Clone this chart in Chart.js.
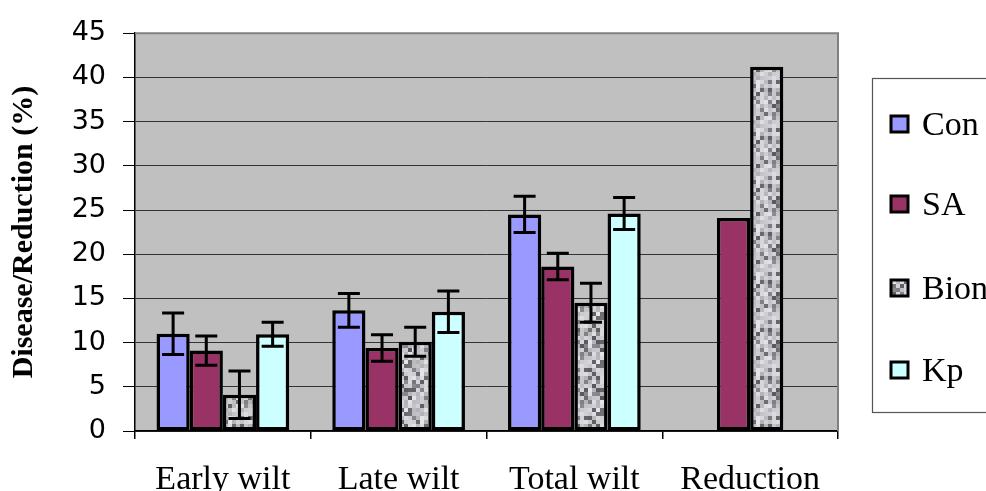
<!DOCTYPE html>
<html><head><meta charset="utf-8">
<script src="https://cdn.jsdelivr.net/npm/chart.js@4.4.1/dist/chart.umd.min.js"></script>
<style>html,body{margin:0;padding:0;background:#fff;overflow:hidden}#wrap{width:986px;height:491px;position:relative}</style>
</head><body><div id="wrap"><canvas id="c" width="986" height="491"></canvas></div>
<script>
const categories = ["Early wilt", "Late wilt", "Total wilt", "Reduction"];
const seriesNames = ["Con", "SA", "Bion", "Kp"];
const conValues = [11.0, 13.65, 24.5, null];
const saValues = [9.1, 9.4, 18.6, 24.1];
const bionValues = [4.1, 10.1, 14.5, 41.2];
const kpValues = [10.95, 13.5, 24.6, null];
const conErr = [2.35, 1.9, 2.05, null];
const saErr = [1.65, 1.5, 1.5, null];
const bionErr = [2.7, 1.65, 2.2, null];
const kpErr = [1.35, 2.35, 1.8, null];
const yTicks = [0, 5, 10, 15, 20, 25, 30, 35, 40, 45];

// deterministic speckle texture for Bion
function makePattern() {
  const p = document.createElement('canvas');
  p.width = 48; p.height = 48;
  const g = p.getContext('2d');
  let s = 98765;
  function rnd() { s = (s * 1103515245 + 12345) & 0x7fffffff; return s / 0x7fffffff; }
  for (let y = 0; y < 48; y += 4) {
    for (let x = 0; x < 48; x += 4) {
      const r = rnd();
      let v = 160 + Math.floor(r * 70);
      if (r < 0.28) v = 85 + Math.floor(rnd() * 60);
      g.fillStyle = `rgb(${v},${v},${v + 4})`;
      g.fillRect(x, y, 4, 4);
    }
  }
  return g.createPattern(p, 'repeat');
}
const ctx = document.getElementById('c').getContext('2d');
const bionPattern = makePattern();
const colors = ['#9999FF', '#993366', bionPattern, '#CCFFFF'];
const seriesValues = [conValues, saValues, bionValues, kpValues];
const seriesErr = [conErr, saErr, bionErr, kpErr];

const bgPlugin = {
  id: 'bg',
  beforeDraw(chart) {
    const a = chart.chartArea, c = chart.ctx;
    c.save(); c.fillStyle = '#C0C0C0'; c.fillRect(a.left, a.top, a.right - a.left, a.bottom - a.top); c.restore();
  },
  afterDraw(chart) {
    const a = chart.chartArea, c = chart.ctx;
    c.save();
    c.strokeStyle = '#808080'; c.lineWidth = 2;
    c.beginPath(); c.moveTo(a.left, a.top); c.lineTo(a.right, a.top); c.lineTo(a.right, a.bottom); c.stroke();
    // legend
    c.fillStyle = '#fff'; c.fillRect(872, 78, 140, 334);
    c.strokeStyle = '#555'; c.lineWidth = 1.2; c.strokeRect(872.5, 78.5, 140, 334);
    const ys = [124, 204, 288, 370];
    c.font = '34px "Liberation Serif", "Times New Roman", serif';
    c.textBaseline = 'alphabetic';
    seriesNames.forEach((n, i) => {
      c.fillStyle = colors[i];
      c.fillRect(891, ys[i] - 8, 17, 16);
      c.strokeStyle = '#000'; c.lineWidth = 3;
      c.strokeRect(891, ys[i] - 8, 17, 16);
      c.fillStyle = '#000';
      c.fillText(n, 922, ys[i] + 11);
    });
    c.restore();
  }
};
const errPlugin = {
  id: 'err',
  afterDatasetsDraw(chart) {
    const c = chart.ctx, ys = chart.scales.y;
    c.save(); c.strokeStyle = '#000'; c.lineWidth = 3;
    chart.data.datasets.forEach((ds, di) => {
      const meta = chart.getDatasetMeta(di);
      meta.data.forEach((bar, i) => {
        const v = ds.data[i], e = seriesErr[di][i];
        if (v == null || e == null) return;
        const x = bar.x, yt = ys.getPixelForValue(v + e), yb = ys.getPixelForValue(v - e);
        c.beginPath();
        c.moveTo(x, yt); c.lineTo(x, yb);
        c.moveTo(x - 11, yt); c.lineTo(x + 11, yt);
        c.moveTo(x - 11, yb); c.lineTo(x + 11, yb);
        c.stroke();
      });
    });
    c.restore();
  }
};

new Chart(ctx, {
  type: 'bar',
  data: {
    labels: categories,
    datasets: seriesNames.map((n, i) => ({
      label: n, data: seriesValues[i], backgroundColor: colors[i],
      borderColor: '#000', borderWidth: 3.5, borderSkipped: false,
      barPercentage: 1.0, categoryPercentage: 0.755
    }))
  },
  options: {
    responsive: false, animation: false,
    layout: { padding: { top: 32, right: 148, left: 0, bottom: 0 } },
    plugins: { legend: { display: false }, tooltip: { enabled: false } },
    scales: {
      x: {
        grid: { drawOnChartArea: false, offset: true, tickLength: 8, tickColor: '#000', lineWidth: 1.5 },
        border: { color: '#000', width: 1.5 },
        ticks: { color: '#000', padding: 21, font: { family: '"Liberation Serif", "Times New Roman", serif', size: 34 } },
        afterFit(s) { s.height = 60; }
      },
      y: {
        min: 0, max: 45,
        afterBuildTicks(s) { s.ticks = yTicks.map(v => ({ value: v })); },
        grid: { color: '#333333', lineWidth: 1, tickLength: 12, tickColor: '#000' },
        border: { color: '#000', width: 1.5 },
        ticks: { color: '#000', padding: 17, font: { family: '"DejaVu Sans", "Liberation Sans", sans-serif', size: 27 } },
        title: { display: true, text: 'Disease/Reduction (%)', color: '#000', padding: { top: 6, bottom: 0 },
                 font: { family: '"Liberation Serif", "Times New Roman", serif', size: 30, weight: 'bold' } },
        afterFit(s) { s.width = 135; }
      }
    }
  },
  plugins: [bgPlugin, errPlugin]
});
</script></body></html>
